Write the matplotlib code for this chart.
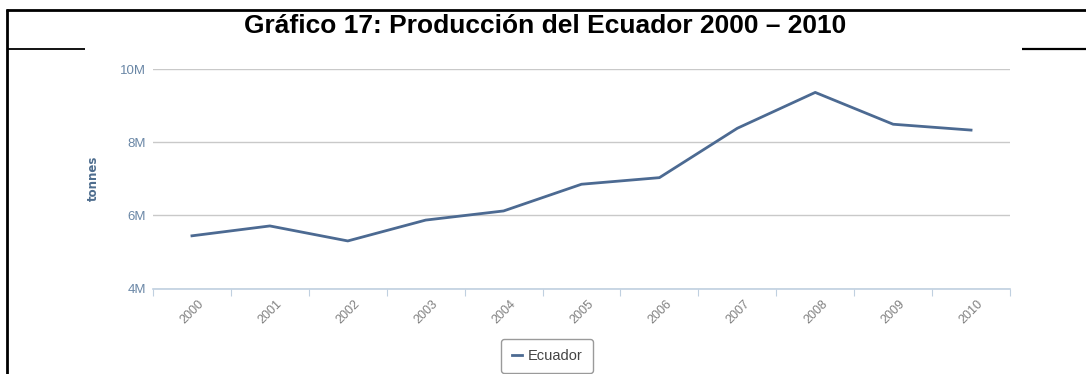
import matplotlib.pyplot as plt
import matplotlib.transforms as mtransforms
from matplotlib.lines import Line2D
from matplotlib.ticker import FixedLocator, FuncFormatter

years = ['2000', '2001', '2002', '2003', '2004', '2005',
         '2006', '2007', '2008', '2009', '2010']
ecuador = [5.44, 5.71, 5.30, 5.87, 6.12, 6.85, 7.03, 8.38, 9.36, 8.49, 8.33]  # millones de toneladas
ecuador_t = [v * 1e6 for v in ecuador]

W, H = 1086, 374
fig = plt.figure(figsize=(W / 100, H / 100), dpi=100)
fig.patch.set_facecolor('white')

ax = fig.add_axes([153 / W, 1 - 288.5 / H, (1010 - 153) / W, (288.5 - 69) / H])
x = list(range(len(years)))
ax.plot(x, ecuador_t, color='#4c6a92', lw=2.0, label='Ecuador', zorder=3)

ax.set_xlim(-0.5, len(years) - 0.5)
ax.set_ylim(4e6, 10e6)
ax.set_yticks([4e6, 6e6, 8e6, 10e6])
ax.yaxis.set_major_formatter(FuncFormatter(lambda v, p: '%dM' % round(v / 1e6)))
ax.grid(axis='y', color='#c9c9c9', lw=1.0)
ax.set_axisbelow(True)

# marcas entre categorias, etiquetas en el centro
ax.set_xticks(x)
ax.set_xticklabels(years, rotation=45, ha='right', va='top', rotation_mode='anchor',
                   fontsize=9, color='#808080', family='Liberation Sans')
ax.tick_params(axis='x', which='major', length=0, pad=7)
shift = mtransforms.ScaledTranslation(6 / 100, 0, fig.dpi_scale_trans)
for lab in ax.get_xticklabels():
    lab.set_transform(lab.get_transform() + shift)
ax.xaxis.set_minor_locator(FixedLocator([i - 0.5 for i in range(len(years) + 1)]))
ax.tick_params(axis='x', which='minor', length=5, width=0.8, color='#c0d0e0', direction='out')
ax.tick_params(axis='y', length=0, pad=5, labelsize=9.5, labelcolor='#6a87a6')
for lab in ax.get_yticklabels():
    lab.set_family('Liberation Sans')

for s in ['top', 'right', 'left']:
    ax.spines[s].set_visible(False)
ax.spines['bottom'].set_color('#c0d0e0')
ax.spines['bottom'].set_linewidth(1.2)

ax.set_ylabel('tonnes', fontsize=8.5, fontweight='bold', color='#4e6d8e')
ax.yaxis.set_label_coords(-(153 - 100) / (1010 - 153), (288.5 - 178) / (288.5 - 69))

leg = ax.legend(loc='center', bbox_to_anchor=(547 / W, 1 - 356 / H), bbox_transform=fig.transFigure,
                handlelength=0.7, handletextpad=0.4, borderpad=0.7,
                fancybox=True, framealpha=1, edgecolor='#9a9a9a',
                prop={'family': 'Liberation Sans', 'size': 10.5})
leg.get_frame().set_linewidth(1.0)
for t in leg.get_texts():
    t.set_color('#444444')

# titulo y marco del cuadro
fig.text(545 / W, 1 - 33 / H, 'Gráfico 17: Producción del Ecuador 2000 – 2010',
         ha='center', va='baseline', fontsize=19, fontweight='bold', family='Liberation Sans')


def px_line(xs, ys, lw):
    fig.add_artist(Line2D([v / W for v in xs], [1 - v / H for v in ys],
                          transform=fig.transFigure, color='black', lw=lw,
                          solid_capstyle='butt'))


px_line([7, 7], [9, H], 2.0)
px_line([6, W], [10, 10], 2.0)
px_line([7, 85], [49, 49], 1.3)
px_line([1022, W], [49, 49], 1.6)

fig.savefig('out.png', dpi=100, facecolor='white')
